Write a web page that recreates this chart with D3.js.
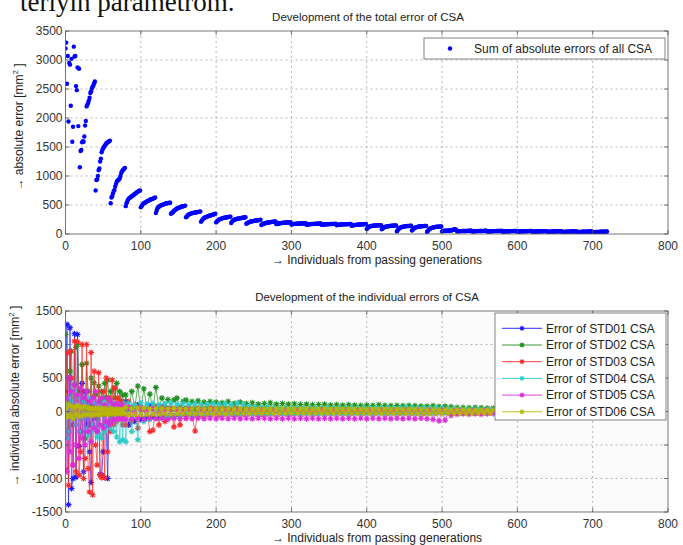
<!DOCTYPE html>
<html lang="en">
<head>
<meta charset="UTF-8">
<title>Development of the error of CSA</title>
<script src="https://d3js.org/d3.v7.min.js"></script>
<style>
  body { margin: 0; background: #fff; }
  svg { display: block; font-family: "Liberation Sans", Arial, sans-serif; }
  .grid line { stroke: #9a9a9a; stroke-width: 0.7; stroke-dasharray: 2,3; }
  .tick-label { font-size: 12px; fill: #333; }
  .title { font-size: 11.5px; fill: #222; }
  .axis-label { font-size: 12px; fill: #222; }
</style>
</head>
<body>
<svg id="chart" width="683" height="545"></svg>
<script>
// tick values
const xTicks = [0, 100, 200, 300, 400, 500, 600, 700, 800];
const totalTicks = [0, 500, 1000, 1500, 2000, 2500, 3000, 3500];
const indivTicks = [-1500, -1000, -500, 0, 500, 1000, 1500];

// sum of absolute errors, one row per generation of 20 individuals
const totalErrorByGen = [
  [3200,3300,2590,3070,1940,2950,2920,2210,3020,1590,1850,3230,3060,3070,2550,2480,2870,1860,2850,1150],
  [1430,1450,1580,1600,1590,1680,1870,1950,2200,2230,2260,2300,2350,2430,2460,2510,2540,2560,2600,2630],
  [750,930,940,1000,1100,1130,1250,1300,1410,1450,1480,1500,1520,1540,1560,1570,1580,1590,1600,1610],
  [530,630,650,700,740,760,820,860,900,920,930,940,960,1000,1050,1080,1100,1110,1130,1140],
  [480,530,560,590,610,620,630,640,650,660,670,680,690,700,710,720,730,740,745,750],
  [460,480,500,520,530,540,545,550,560,570,575,580,590,595,600,605,610,615,620,630],
  [360,400,440,460,470,480,490,495,500,505,510,515,520,525,530,530,535,535,540,540],
  [350,360,370,380,400,410,420,430,440,445,450,455,460,465,470,475,478,480,485,490],
  [290,300,320,330,340,345,350,355,360,362,365,368,370,372,375,378,380,382,385,390],
  [210,230,250,265,275,285,290,295,300,305,310,315,320,322,325,330,335,340,345,350],
  [200,215,230,240,250,255,260,265,270,275,278,280,282,285,288,290,292,295,298,300],
  [190,210,225,235,245,250,255,258,262,265,268,270,272,275,278,280,282,284,286,288],
  [175,185,195,200,205,210,215,218,220,222,225,228,230,232,235,236,238,240,242,245],
  [155,165,172,178,182,186,190,193,196,198,200,202,204,206,208,210,211,212,214,215],
  [170,174,178,181,184,186,188,190,192,193,194,195,196,197,198,199,200,200,201,202],
  [165,168,170,172,174,175,176,177,178,179,180,180,181,182,182,183,184,184,185,185],
  [160,163,165,167,168,170,171,172,173,174,175,175,176,177,177,178,178,179,180,180],
  [158,160,162,164,165,166,167,168,169,170,170,171,172,172,173,173,174,174,175,176],
  [150,155,158,160,162,163,164,165,166,167,167,168,168,169,170,170,171,172,172,173],
  [140,145,150,153,155,157,158,160,161,162,163,164,165,166,167,168,169,170,171,172],
  [85,100,115,125,130,135,138,140,142,144,145,146,147,148,149,150,150,151,152,152],
  [80,95,105,115,120,125,128,130,133,135,137,139,140,141,142,143,144,145,146,148],
  [45,65,80,95,105,112,118,122,125,128,130,132,134,136,137,138,139,140,141,142],
  [60,75,90,100,108,114,118,122,125,127,129,131,133,134,135,136,137,138,139,140],
  [35,50,65,80,90,98,104,108,112,115,118,120,122,124,125,126,127,128,129,130],
  [45,50,54,55,56,57,58,58,59,60,60,61,62,64,68,75,80,82,78,70],
  [45,46,47,48,49,50,50,51,51,52,52,53,53,54,54,55,55,56,56,57],
  [44,45,46,47,48,49,49,50,50,51,51,52,52,53,53,54,54,55,55,56],
  [42,43,44,45,46,47,48,48,49,49,50,50,51,51,52,52,53,53,54,55],
  [40,42,43,44,45,46,46,47,47,48,48,49,49,50,50,51,51,52,52,53],
  [38,40,42,43,44,45,45,46,46,47,47,48,48,49,49,50,50,51,51,52],
  [36,38,40,41,42,43,44,44,45,45,46,46,47,47,48,48,49,49,50,50],
  [35,37,38,39,40,41,42,42,43,43,44,44,45,45,46,46,47,47,48,48],
  [34,35,36,37,38,39,40,40,41,41,42,42,43,43,44,44,45,45,46,46],
  [32,33,34,35,36,37,38,38,39,39,40,40,41,41,42,42,43,43,44,44],
  [30,31,32,33,34,35,36,36,37,37,38,38,39,39,40,40,41,41,42,42]
];

// individuals at which the single errors are shown (band right of 568 sits behind the legend)
const sampleX = d3.range(0, 80, 2).concat(d3.range(80, 569, 4));

const std01 = [300,1300,-1390,1250,-1150,-1000,1160,-980,1150,-520,-300,420,-900,300,-200,150,-600,-1060,200,-100,
  80,-300,100,-940,-950,-600,50,-200,-1000,100,-150,80,-100,50,-80,60,-50,40,-60,30,
  150,-200,60,-150,100,-120,40,-100,90,-80, 60,-90,70,-60,50,-70,40,-50,60,-40,
  50,-40,40,-50,30,-40,40,-30,50,-30, 40,-40,30,-30,40,-30,30,-40,30,-30,
  40,-30,30,-30,30,-40,30,-30,30,-30, 30,-30,25,-25,25,-30,20,-25,25,-20,
  20,-25,20,-20,25,-20,20,-20,20,-25, 20,-20,20,-20,20,-20,15,-20,20,-15,
  20,-20,15,-20,20,-15,20,-20,15,-15, 15,-20,15,-15,20,-15,15,-15,15,-20,
  15,-15,15,-15,20,-15,15,-15,15,-15, 10,-15,10,-10,15,-10,10,-15,10,-10,
  10,-10,10];
const std02 = [1150,200,-300,600,900,-200,400,960,1000,300,-100,700,200,-400,720,300,-200,500,100,430,
  250,-100,380,150,300,-50,420,200,470,100,300,-50,350,200,420,100,300,150,250,80,
  250,40,300,60,380,30,340,50,260,40, 360,50,200,60,180,40,170,200,50,150,
  170,40,150,30,160,50,140,40,150,30, 140,30,130,40,150,30,120,40,140,30,
  120,30,130,40,110,30,120,35,130,30, 110,30,120,35,110,30,115,40,105,30,
  110,35,100,30,105,25,110,30,95,25, 100,30,95,25,100,30,95,20,90,25,
  95,25,90,20,100,25,90,20,85,20, 90,20,85,15,90,20,85,15,80,15,
  80,15,85,10,75,10,80,10,70,10, 60,10,60,5,55,10,60,5,55,5,
  50,5,50];
const std03 = [-860,875,-1100,900,500,-800,1050,-900,1040,-950,-600,1000,-1000,-700,1000,-850,-1200,880,-1243,600,
  -500,-800,580,-950,-990,300,-990,500,-600,200,-300,470,-200,350,-150,200,-100,150,-200,100,
  -200,150,-150,100,-250,60,-120,40,-300,-280, 80,-200,60,-150,-100,50,-230,40,-200,30,
  -100,40,-60,-290,50,-60,40,-50,50,-40, 40,-50,40,-40,30,-40,40,-30,30,-40,
  30,-30,40,-30,30,-40,30,-30,30,-30, 30,-30,30,-30,25,-30,30,-25,25,-30,
  25,-25,20,-25,20,-20,25,-20,20,-20, 20,-20,20,-20,20,-20,20,-20,20,-20,
  15,-20,15,-15,20,-15,15,-15,15,-15, 15,-15,15,-15,15,-15,15,-15,15,-15,
  15,-15,10,-15,10,-10,15,-10,10,-10, 10,-10,10,-10,10,-10,10,-10,10,-10,
  10,-10,10];
const std04 = [100,-400,200,-300,150,-100,300,-200,100,-300,200,-100,150,-250,100,-350,200,-300,150,-200,
  120,-380,100,-350,-400,150,-300,100,-200,120,-250,100,-300,120,-380,100,-450,80,-420,120,
  -450,120,-300,100,-420,130,-150,110,-120,120, 10,100,-100,120,-80,130,-90,110,-60,120,
  0,110,-50,120,-60,100,-40,110,-50,120, 0,110,-40,120,-30,100,-40,130,-30,110,
  0,80,-30,70,-40,60,-30,70,-30,60, 0,50,-30,60,-30,50,-30,60,-30,50,
  -20,50,-30,60,-30,50,-30,60,-30,50, -20,60,-30,50,-30,60,-20,50,-30,60,
  -20,50,-30,60,-20,50,-30,60,-20,50, -20,60,-30,70,-20,60,-30,50,-20,60,
  -20,50,-30,60,-20,50,-20,40,-20,40, -15,30,-20,30,-15,30,-20,25,-15,25,
  -15,25,-15];
const std05 = [200,-900,500,-600,300,-800,400,-500,250,-700,350,-400,200,-500,300,-300,150,-450,200,-250,
  300,-300,150,-200,200,-250,100,-150,200,-200,150,-150,100,-120,120,-100,80,-120,100,-110,
  -120,60,-110,-20,-100,40,-120,-10,-100,40, -110,-20,-100,20,-120,-30,-100,20,-110,-20,
  -100,20,-110,-30,-100,20,-110,-20,-100,30, -110,-20,-100,20,-110,-20,-100,30,-110,-20,
  -100,20,-110,-20,-100,30,-100,-20,-110,20, -100,-20,-110,20,-100,-30,-110,20,-100,-20,
  -110,20,-100,-20,-110,30,-100,-20,-110,20, -100,-20,-110,20,-100,-20,-110,20,-100,-20,
  -110,20,-100,-20,-110,20,-100,-20,-110,20, -100,-20,-110,20,-100,-20,-110,20,-100,-20,
  -110,20,-120,-20,-140,20,-130,-20,-60,10, -40,10,-35,-10,-40,10,-35,-10,-40,10,
  -35,-10,-30];
const std06 = [50,-80,100,-60,80,-100,60,-50,90,-70,60,-60,70,-50,60,-40,50,-60,40,-50,
  50,-40,40,-50,40,-30,40,-40,30,-40,40,-30,30,-40,35,-30,30,-35,30,-30,
  60,-50,50,-40,55,-45,50,-40,45,-40, 45,-40,45,-35,40,-40,45,-35,40,-35,
  40,-35,40,-35,40,-35,40,-30,40,-35, 40,-30,35,-35,40,-30,35,-30,40,-30,
  35,-30,35,-30,35,-30,35,-30,35,-30, 35,-30,40,-30,35,-30,35,-30,35,-30,
  35,-30,35,-30,35,-30,35,-30,35,-30, 35,-30,35,-30,35,-30,35,-30,35,-30,
  35,-30,35,-30,35,-30,35,-30,35,-30, 35,-30,35,-30,35,-30,35,-30,35,-30,
  30,-30,30,-25,30,-25,30,-25,30,-25, 30,-25,30,-25,25,-25,25,-20,25,-20,
  25,-20,25];

const seriesNames = ["Error of STD01 CSA", "Error of STD02 CSA", "Error of STD03 CSA",
                     "Error of STD04 CSA", "Error of STD05 CSA", "Error of STD06 CSA"];
const seriesColors = ["#1a1aff", "#1f8f1f", "#ff2a2a", "#2ccccc", "#dd2add", "#b8b800"];
const seriesValues = [std01, std02, std03, std04, std05, std06];

const svg = d3.select("#chart");

// intro text line cut off at the top of the page
svg.append("text")
  .attr("x", 20).attr("y", 11)
  .style("font-family", "'Liberation Serif', 'Times New Roman', serif")
  .style("font-size", "27px")
  .attr("fill", "#111")
  .text("terlyin parametrom.");

const x = d3.scaleLinear().domain([0, 800]).range([65.5, 668]);
const yTop = d3.scaleLinear().domain([0, 3500]).range([234, 31]);
const yBot = d3.scaleLinear().domain([-1500, 1500]).range([512, 311]);

function drawFrame(y, yTicks, bg, id) {
  const [x0, x1] = x.range();
  const [y0, y1] = y.range();
  const g = svg.append("g");
  g.append("rect")
    .attr("x", x0).attr("y", y1)
    .attr("width", x1 - x0).attr("height", y0 - y1)
    .attr("fill", bg);

  svg.append("clipPath").attr("id", id)
    .append("rect")
    .attr("x", x0).attr("y", y1)
    .attr("width", x1 - x0).attr("height", y0 - y1);

  const grid = g.append("g").attr("class", "grid");
  grid.selectAll(".gx").data(xTicks.slice(1, -1)).enter().append("line")
    .attr("x1", d => x(d)).attr("x2", d => x(d))
    .attr("y1", y1).attr("y2", y0);
  grid.selectAll(".gy").data(yTicks.slice(1, -1)).enter().append("line")
    .attr("x1", x0).attr("x2", x1)
    .attr("y1", d => y(d)).attr("y2", d => y(d));

  // tick labels
  g.selectAll(".xl").data(xTicks).enter().append("text")
    .attr("class", "tick-label")
    .attr("x", d => x(d)).attr("y", y0 + 16)
    .attr("text-anchor", "middle")
    .text(d => d);
  g.selectAll(".yl").data(yTicks).enter().append("text")
    .attr("class", "tick-label")
    .attr("x", x0 - 3).attr("y", d => y(d) + 4)
    .attr("text-anchor", "end")
    .text(d => d);
  return g;
}

function drawBox(y, yTicks) {
  const [x0, x1] = x.range();
  const [y0, y1] = y.range();
  const g = svg.append("g").attr("stroke", "#555").attr("stroke-width", 0.8);
  g.append("rect")
    .attr("x", x0).attr("y", y1)
    .attr("width", x1 - x0).attr("height", y0 - y1)
    .attr("fill", "none");
  xTicks.forEach(t => {
    g.append("line").attr("x1", x(t)).attr("x2", x(t)).attr("y1", y0).attr("y2", y0 - 4);
    g.append("line").attr("x1", x(t)).attr("x2", x(t)).attr("y1", y1).attr("y2", y1 + 4);
  });
  yTicks.forEach(t => {
    g.append("line").attr("x1", x0).attr("x2", x0 + 4).attr("y1", y(t)).attr("y2", y(t));
    g.append("line").attr("x1", x1).attr("x2", x1 - 4).attr("y1", y(t)).attr("y2", y(t));
  });
}

function starPath(r) {
  const d = r * 0.7;
  return `M${-r},0H${r}M0,${-r}V${r}M${-d},${-d}L${d},${d}M${-d},${d}L${d},${-d}`;
}

function yLabel(cx, cy, main) {
  const t = svg.append("text")
    .attr("class", "axis-label")
    .attr("transform", `translate(${cx},${cy}) rotate(-90)`)
    .attr("text-anchor", "middle");
  t.append("tspan").text(main);
  t.append("tspan").attr("dy", -5).style("font-size", "8px").text("2");
  t.append("tspan").attr("dy", 5).text(" ]");
}

// ---------- top chart ----------
drawFrame(yTop, totalTicks, "#ffffff", "clipTop");

const totalPoints = totalErrorByGen.flat().map((v, i) => ({ i, v }));
svg.append("g").attr("clip-path", "url(#clipTop)")
  .selectAll("circle").data(totalPoints).enter().append("circle")
  .attr("cx", d => x(d.i)).attr("cy", d => yTop(d.v))
  .attr("r", 2.2)
  .attr("fill", "#0000ff");

drawBox(yTop, totalTicks);

svg.append("text").attr("class", "title")
  .attr("x", 368).attr("y", 21).attr("text-anchor", "middle")
  .text("Development of the total error of CSA");
svg.append("text").attr("class", "axis-label")
  .attr("x", 377).attr("y", 264).attr("text-anchor", "middle")
  .text("\u2192 Individuals from passing generations");
yLabel(23, 127, "\u2192 absolute error [mm");

// legend top
const lgTop = svg.append("g");
lgTop.append("rect")
  .attr("x", 424).attr("y", 38).attr("width", 241).attr("height", 21)
  .attr("fill", "#fff").attr("stroke", "#666").attr("stroke-width", 0.8);
lgTop.append("circle").attr("cx", 450).attr("cy", 48.5).attr("r", 2.2).attr("fill", "#0000ff");
lgTop.append("text").attr("class", "axis-label")
  .attr("x", 474).attr("y", 53)
  .text("Sum of absolute errors of all CSA");

// ---------- bottom chart ----------
drawFrame(yBot, indivTicks, "#fbfbfb", "clipBot");

const line = d3.line().x(d => x(d[0])).y(d => yBot(d[1]));
const plotBot = svg.append("g").attr("clip-path", "url(#clipBot)");
seriesValues.forEach((vals, k) => {
  const pts = vals.map((v, i) => [sampleX[i], v]);
  plotBot.append("path")
    .attr("d", line(pts))
    .attr("fill", "none")
    .attr("stroke", seriesColors[k])
    .attr("stroke-width", 0.8)
    .attr("stroke-opacity", 0.85);
  plotBot.append("g").selectAll("path").data(pts).enter().append("path")
    .attr("transform", d => `translate(${x(d[0])},${yBot(d[1])})`)
    .attr("d", starPath(3))
    .attr("fill", "none")
    .attr("stroke", seriesColors[k])
    .attr("stroke-width", 1.1);
});

drawBox(yBot, indivTicks);

svg.append("text").attr("class", "title")
  .attr("x", 367).attr("y", 301).attr("text-anchor", "middle")
  .text("Development of the individual errors of CSA");
svg.append("text").attr("class", "axis-label")
  .attr("x", 377).attr("y", 542).attr("text-anchor", "middle")
  .text("\u2192 Individuals from passing generations");
yLabel(19, 396, "\u2192 individual absolute error [mm");

// legend bottom
const lgBot = svg.append("g");
lgBot.append("rect")
  .attr("x", 495).attr("y", 313).attr("width", 171).attr("height", 107)
  .attr("fill", "#fff").attr("stroke", "#666").attr("stroke-width", 0.8);
seriesNames.forEach((name, k) => {
  const cy = 328.3 + k * 16.7;
  lgBot.append("line")
    .attr("x1", 502).attr("x2", 542).attr("y1", cy).attr("y2", cy)
    .attr("stroke", seriesColors[k]).attr("stroke-width", 0.9);
  lgBot.append("path")
    .attr("transform", `translate(522,${cy})`)
    .attr("d", starPath(2.5))
    .attr("fill", "none").attr("stroke", seriesColors[k]).attr("stroke-width", 1.1);
  lgBot.append("text").attr("class", "axis-label")
    .attr("x", 546).attr("y", cy + 4.3)
    .text(name);
});
</script>
</body>
</html>
